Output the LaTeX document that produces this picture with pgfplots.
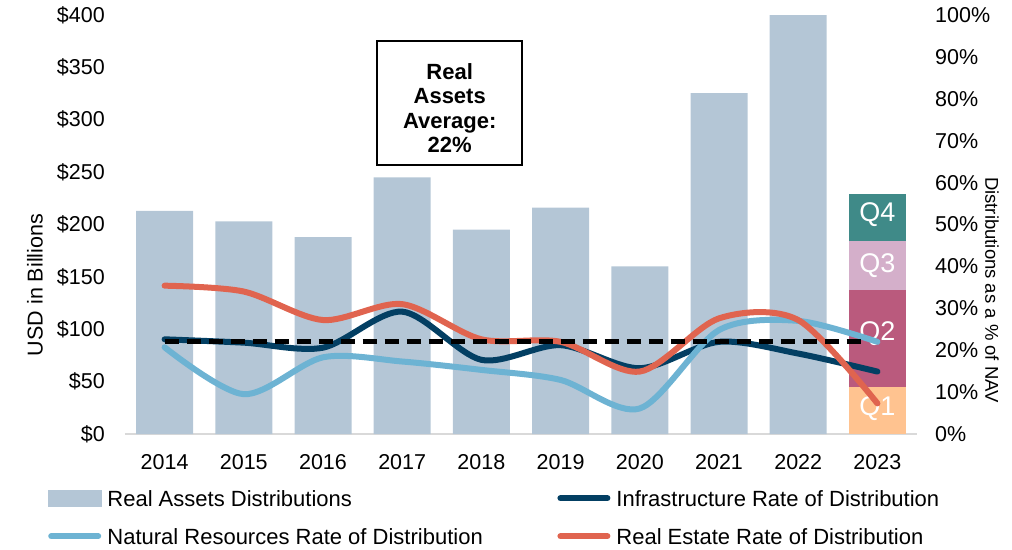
\documentclass[border=0pt]{standalone}
\usepackage{fontspec}
\setmainfont{Liberation Sans}
\usepackage{pgfplots}
\pgfplotsset{compat=1.18}

\definecolor{barblue}{HTML}{B4C6D6}
\definecolor{qone}{HTML}{FFC390}
\definecolor{qtwo}{HTML}{BA5A7D}
\definecolor{qthree}{HTML}{D4AFCA}
\definecolor{qfour}{HTML}{3F8A88}
\definecolor{infra}{HTML}{033F63}
\definecolor{natres}{HTML}{6DB3D3}
\definecolor{realest}{HTML}{E0644F}
\definecolor{axgray}{HTML}{D9D9D9}

\newcommand{\tfont}{\fontsize{21.5}{25}\selectfont}
\newcommand{\lfont}{\fontsize{22}{26}\selectfont}
\newcommand{\qfont}{\fontsize{27}{30}\selectfont}
\newcommand{\bfont}{\fontsize{22}{24.5}\selectfont\bfseries}

\begin{document}
\begin{tikzpicture}
\begin{axis}[
  at={(0pt,0pt)}, anchor=south west,
  scale only axis, width=792pt, height=419pt,
  xmin=-0.5, xmax=9.5, ymin=0, ymax=400,
  ybar stacked, bar width=57pt,
  axis x line*=bottom, axis y line*=left,
  x axis line style={draw=axgray, line width=2.5pt},
  y axis line style={draw=none},
  tick style={draw=none}, major tick length=0pt,
  xtick={0,1,2,3,4,5,6,7,8,9},
  xticklabels={2014,2015,2016,2017,2018,2019,2020,2021,2022,2023},
  ytick={0,50,100,150,200,250,300,350,400},
  yticklabel={\$\pgfmathprintnumber{\tick}},
  /pgf/number format/assume math mode=true,
  tick label style={font=\tfont, inner sep=0pt},
  xticklabel shift=20pt, yticklabel shift=20pt,
  ylabel={USD in Billions},
  ylabel style={at={(axis description cs:-0.1136,0.3556)}, anchor=center, font=\tfont},
]
\addplot[fill=barblue, draw=none] coordinates {(0,213) (1,203) (2,188) (3,245) (4,195) (5,216) (6,160) (7,325.5) (8,400) (9,0)};
\addplot[fill=qone, draw=none] coordinates {(0,0) (1,0) (2,0) (3,0) (4,0) (5,0) (6,0) (7,0) (8,0) (9,44.5)};
\addplot[fill=qtwo, draw=none] coordinates {(0,0) (1,0) (2,0) (3,0) (4,0) (5,0) (6,0) (7,0) (8,0) (9,93)};
\addplot[fill=qthree, draw=none] coordinates {(0,0) (1,0) (2,0) (3,0) (4,0) (5,0) (6,0) (7,0) (8,0) (9,46.5)};
\addplot[fill=qfour, draw=none] coordinates {(0,0) (1,0) (2,0) (3,0) (4,0) (5,0) (6,0) (7,0) (8,0) (9,45)};
\coordinate (q1) at (axis cs:9,24.5);
\coordinate (q2) at (axis cs:9,96);
\coordinate (q3) at (axis cs:9,161);
\coordinate (q4) at (axis cs:9,209);
\coordinate (bx) at (axis cs:3.6,316);
\coordinate (bt) at (axis cs:3.6,311);
\end{axis}
\node[text=white, font=\qfont, inner sep=0pt] at (q1) {Q1};
\node[text=white, font=\qfont, inner sep=0pt] at (q2) {Q2};
\node[text=white, font=\qfont, inner sep=0pt] at (q3) {Q3};
\node[text=white, font=\qfont, inner sep=0pt] at (q4) {Q4};

\begin{axis}[
  at={(0pt,0pt)}, anchor=south west,
  scale only axis, width=792pt, height=419pt,
  xmin=-0.5, xmax=9.5, ymin=0, ymax=100,
  hide x axis,
  axis y line*=right,
  y axis line style={draw=none},
  tick style={draw=none}, major tick length=0pt,
  ytick={0,10,20,30,40,50,60,70,80,90,100},
  yticklabel={\pgfmathprintnumber{\tick}\%},
  /pgf/number format/assume math mode=true,
  tick label style={font=\tfont, inner sep=0pt},
  yticklabel shift=18pt,
  ylabel={Distributions as a \% of NAV},
  ylabel style={at={(axis description cs:1.0947,0.3437)}, anchor=center, rotate=180, font=\fontsize{18.5}{22}\selectfont},
  legend columns=2,
  legend style={at={(axis description cs:-0.0972,-0.1337)}, anchor=north west,
    draw=none, fill=none, inner sep=0pt, outer sep=0pt, font=\lfont,
    row sep=17pt,
    cells={anchor=base west},
    nodes={inner sep=0pt, text height=16pt, text depth=5pt},
    /tikz/every odd column/.append style={column sep=6pt},
    /tikz/every even column/.append style={column sep=20pt}},
]
\addlegendimage{legend image code/.code={\fill[barblue] (0pt,0pt) rectangle (53pt,15.5pt);}}
\addlegendentry{\makebox[430pt][l]{Real Assets Distributions}}
\addplot[infra, line width=6pt, line cap=round, smooth, tension=0.5,
  legend image code/.code={\draw[infra, line width=6pt, line cap=round] (3pt,7.8pt) -- (50pt,7.8pt);}]
  coordinates {(0,22.6) (1,21.8) (2,20.6) (3,29.2) (4,17.7) (5,21.2) (6,15.7) (7,22.0) (8,19.2) (9,14.9)};
\addlegendentry{\makebox[430pt][l]{Infrastructure Rate of Distribution}}
\addplot[natres, line width=6pt, line cap=round, smooth, tension=0.5,
  legend image code/.code={\draw[natres, line width=6pt, line cap=round] (3pt,7.8pt) -- (50pt,7.8pt);}]
  coordinates {(0,20.7) (1,9.5) (2,18.3) (3,17.3) (4,15.3) (5,12.9) (6,6.1) (7,24.8) (8,27.0) (9,22.0)};
\addlegendentry{\makebox[430pt][l]{Natural Resources Rate of Distribution}}
\addplot[realest, line width=6pt, line cap=round, smooth, tension=0.5,
  legend image code/.code={\draw[realest, line width=6pt, line cap=round] (3pt,7.8pt) -- (50pt,7.8pt);}]
  coordinates {(0,35.4) (1,34.0) (2,27.2) (3,31.0) (4,22.6) (5,22.0) (6,14.9) (7,27.6) (8,27.2) (9,7.3)};
\addlegendentry{\makebox[430pt][l]{Real Estate Rate of Distribution}}
\addplot[black, line width=4.7pt, dash pattern=on 14pt off 8pt, forget plot]
  coordinates {(0,22) (8.8,22)};
\end{axis}
\node[draw=black, fill=white, line width=1.5pt, minimum width=145pt, minimum height=124pt, inner sep=0pt] at (bx) {};
\node[align=center, font=\bfont, inner sep=0pt, text=black] at (bt) {Real\\Assets\\Average:\\22\%};
\pgfresetboundingbox
\path[use as bounding box] (-125pt,-115pt) rectangle (887pt,434pt);
\end{tikzpicture}
\end{document}
